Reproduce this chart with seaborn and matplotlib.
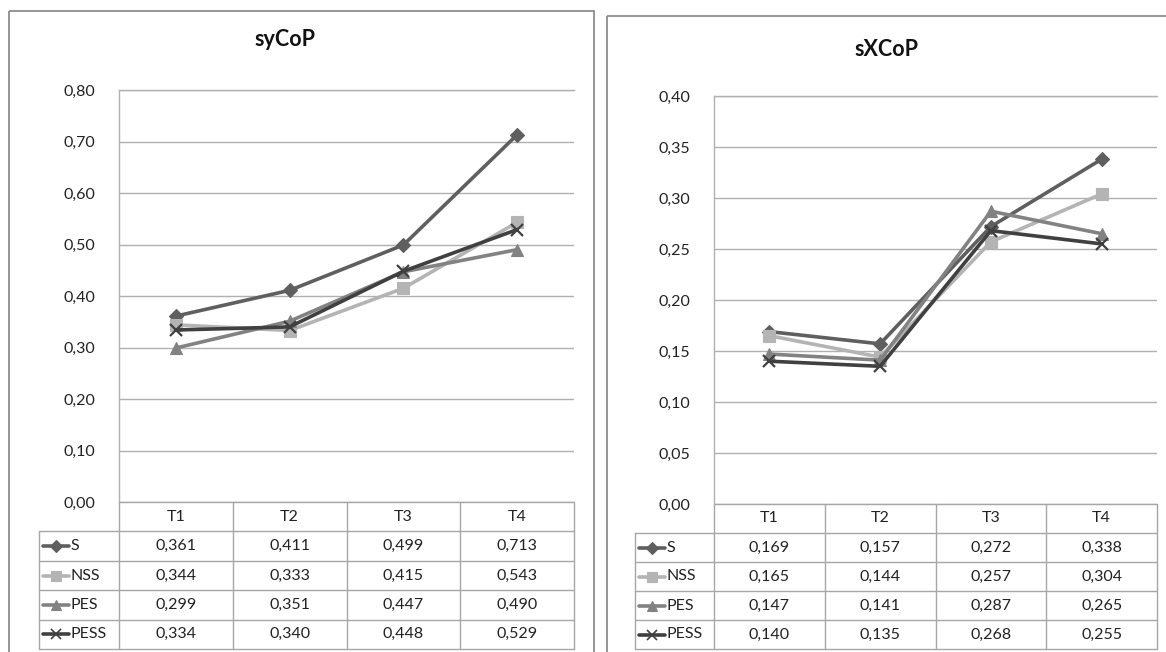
import matplotlib
matplotlib.use("Agg")
import matplotlib.pyplot as plt
import seaborn as sns
import pandas as pd
from matplotlib.lines import Line2D
from matplotlib.patches import Rectangle
from matplotlib.ticker import FuncFormatter

# ---------------- data ----------------
categories = ["T1", "T2", "T3", "T4"]
series_names = ["S", "NSS", "PES", "PESS"]

sycop_S = [0.361, 0.411, 0.499, 0.713]
sycop_NSS = [0.344, 0.333, 0.415, 0.543]
sycop_PES = [0.299, 0.351, 0.447, 0.490]
sycop_PESS = [0.334, 0.340, 0.448, 0.529]

sxcop_S = [0.169, 0.157, 0.272, 0.338]
sxcop_NSS = [0.165, 0.144, 0.257, 0.304]
sxcop_PES = [0.147, 0.141, 0.287, 0.265]
sxcop_PESS = [0.140, 0.135, 0.268, 0.255]

title_left = "syCoP"
title_right = "sXCoP"
yticks_left = [0.0, 0.1, 0.2, 0.3, 0.4, 0.5, 0.6, 0.7, 0.8]
yticks_right = [0.0, 0.05, 0.10, 0.15, 0.20, 0.25, 0.30, 0.35, 0.40]

# ---------------- style ----------------
sns.set_theme(style="white")
plt.rcParams["font.family"] = ["Lato", "DejaVu Sans"]

colors = {"S": "#5f5f5f", "NSS": "#b4b4b4", "PES": "#828282", "PESS": "#404040"}
markers = {"S": "D", "NSS": "s", "PES": "^", "PESS": "x"}
msizes = {"S": 7.5, "NSS": 8.5, "PES": 9, "PESS": 9}

W, H = 1166, 652
fig = plt.figure(figsize=(W / 100, H / 100), dpi=100)
fig.patch.set_facecolor("white")

# overlay in pixel coordinates for panel frames and tables
ov = fig.add_axes([0, 0, 1, 1], zorder=0)
ov.set_xlim(0, W)
ov.set_ylim(H, 0)
ov.axis("off")


def px_axes(x0, y0, x1, y1):
    return fig.add_axes([x0 / W, 1 - y1 / H, (x1 - x0) / W, (y1 - y0) / H], zorder=2)


def comma(v, nd):
    return f"{v:.{nd}f}".replace(".", ",")


GRID = "#b0b0b0"
TBL = "#a6a6a6"
FS = 11.5


def draw_panel(frame, ax_box, leg_x, title, title_xy, data, yticks, ylim):
    fx0, fy0, fx1, fy1 = frame
    ov.add_patch(Rectangle((fx0, fy0), fx1 - fx0, fy1 - fy0, fill=False,
                           edgecolor="#8c8c8c", lw=1.3))
    x0, y0, x1, y1 = ax_box
    ax = px_axes(x0, y0, x1, y1)
    ax.patch.set_alpha(0)
    for name, vals in zip(series_names, data):
        df = pd.DataFrame({"x": categories, "y": vals})
        sns.lineplot(data=df, x="x", y="y", ax=ax, color=colors[name],
                     marker=markers[name], markersize=msizes[name],
                     markeredgecolor=colors[name], markeredgewidth=1.6 if name == "PESS" else 0.8,
                     linewidth=2.6, sort=False, legend=False)
    ax.set_xlim(-0.5, len(categories) - 0.5)
    ax.set_ylim(*ylim)
    ax.set_yticks(yticks)
    ax.yaxis.set_major_formatter(FuncFormatter(lambda v, p: comma(v, 2)))
    ax.set_xticks([])
    ax.set_xlabel("")
    ax.set_ylabel("")
    ax.tick_params(axis="y", length=0, pad=17, labelsize=FS, colors="#222222")
    ax.grid(axis="y", color=GRID, lw=1.0)
    ax.set_axisbelow(True)
    for s in ["right", "bottom"]:
        ax.spines[s].set_visible(False)
    ax.spines["left"].set_color(GRID)
    ax.spines["top"].set_color(GRID)
    ax.spines["left"].set_linewidth(1.0)
    ax.spines["top"].set_linewidth(1.0)

    fig.text(title_xy[0] / W, 1 - title_xy[1] / H, title, ha="center", va="center",
             fontsize=15.5, fontweight="bold", color="#111111")

    # ---- data table ----
    nrows = len(series_names)
    rh = (649 - y1) / (nrows + 1)
    ncol = len(categories)
    cw = (x1 - x0) / ncol
    ybot = y1 + rh * (nrows + 1)
    # horizontal lines
    ov.plot([x0, x1], [y1, y1], color=TBL, lw=1.0)
    for i in range(1, nrows + 2):
        yy = y1 + rh * i
        ov.plot([leg_x, x1], [yy, yy], color=TBL, lw=1.0)
    # vertical lines
    ov.plot([leg_x, leg_x], [y1 + rh, ybot], color=TBL, lw=1.0)
    for j in range(ncol + 1):
        xx = x0 + cw * j
        ov.plot([xx, xx], [y1, ybot], color=TBL, lw=1.0)
    # header
    for j, c in enumerate(categories):
        ov.text(x0 + cw * (j + 0.5), y1 + rh * 0.5, c, ha="center", va="center",
                fontsize=FS, color="#222222")
    # rows
    for i, (name, vals) in enumerate(zip(series_names, data)):
        yc = y1 + rh * (i + 1.5)
        for j, v in enumerate(vals):
            ov.text(x0 + cw * (j + 0.5), yc, comma(v, 3), ha="center", va="center",
                    fontsize=FS, color="#222222")
        # legend key
        ov.add_line(Line2D([leg_x + 4, leg_x + 30], [yc, yc], color=colors[name], lw=2.6))
        ov.add_line(Line2D([leg_x + 17], [yc], color=colors[name], marker=markers[name],
                           markersize=msizes[name] * 0.85, markeredgecolor=colors[name],
                           markeredgewidth=1.2 if name == "PESS" else 0.8, lw=0))
        ov.text(leg_x + 31, yc, name, ha="left", va="center", fontsize=FS, color="#222222")
    return ax


draw_panel((9, 11, 594, 700), (119, 90, 574, 502), 39, title_left, (285, 40),
           [sycop_S, sycop_NSS, sycop_PES, sycop_PESS], yticks_left, (0, 0.8))
draw_panel((607, 16, 1200, 700), (714, 96, 1157, 504), 635, title_right, (886, 50),
           [sxcop_S, sxcop_NSS, sxcop_PES, sxcop_PESS], yticks_right, (0, 0.4))

fig.savefig("out.png", dpi=100, facecolor="white")
